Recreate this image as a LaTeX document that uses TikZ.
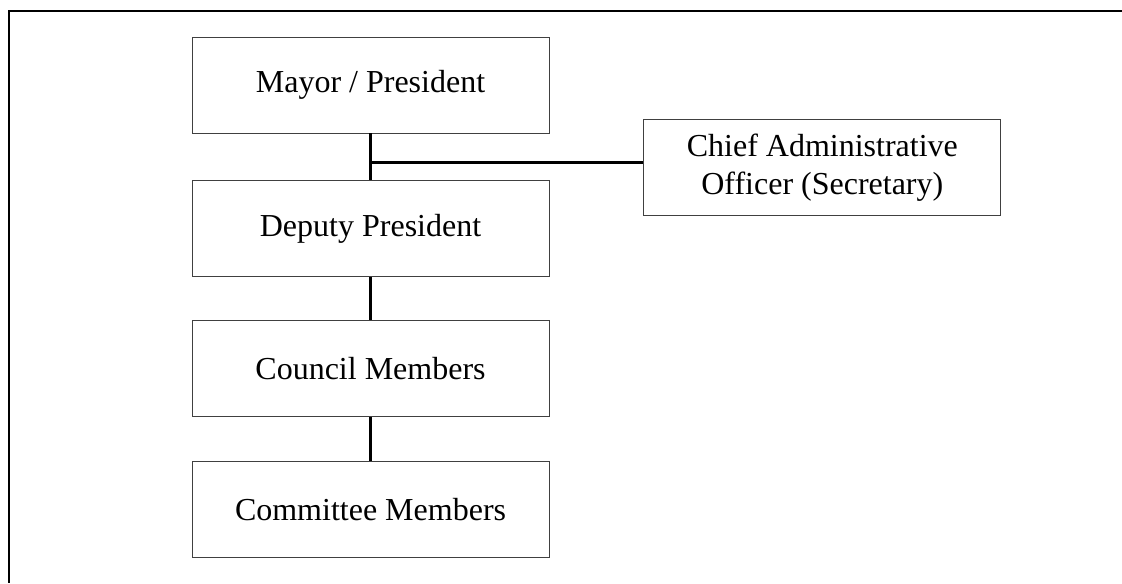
\documentclass[tikz,border=0pt]{standalone}
\usepackage{fontspec}
\setmainfont{Liberation Serif}
\usetikzlibrary{positioning}
\tikzset{
  post/.style={
    draw=black!75, line width=0.6pt, align=center,
    minimum width=267.75pt, minimum height=72pt,
    font=\fontsize{24}{28.5}\selectfont,
  },
  link/.style={line width=2.8pt},
  frame/.style={line width=2.2pt},
}

\begin{document}
\begin{tikzpicture}[node distance=33pt and 70.5pt]

\useasboundingbox (0,0) rectangle (841.5pt,-437.25pt);
\draw[frame] (841.5pt,-8.25pt) -| (6.75pt,-437.25pt);

\node[post] (mayor) at (277.9pt,-63.75pt) {Mayor / President};
\node[post, below=35.25pt of mayor] (deputy) {Deputy President};
\node[post, below=32.25pt of deputy] (council) {Council Members};
\node[post, below=of council] (committee) {Committee Members};

\node[post, below right=-10.5pt and 70.5pt of mayor.south east]
  (cao) {Chief Administrative\\Officer (Secretary)};

\draw[link] (mayor) -- (deputy);
\draw[link] (deputy) -- (council);
\draw[link] (council) -- (committee);

% secretary hangs off the top link
\coordinate[below=21.75pt of mayor.south] (tee);
\draw[link] (tee) -- (tee -| cao.west);

\end{tikzpicture}
\end{document}
